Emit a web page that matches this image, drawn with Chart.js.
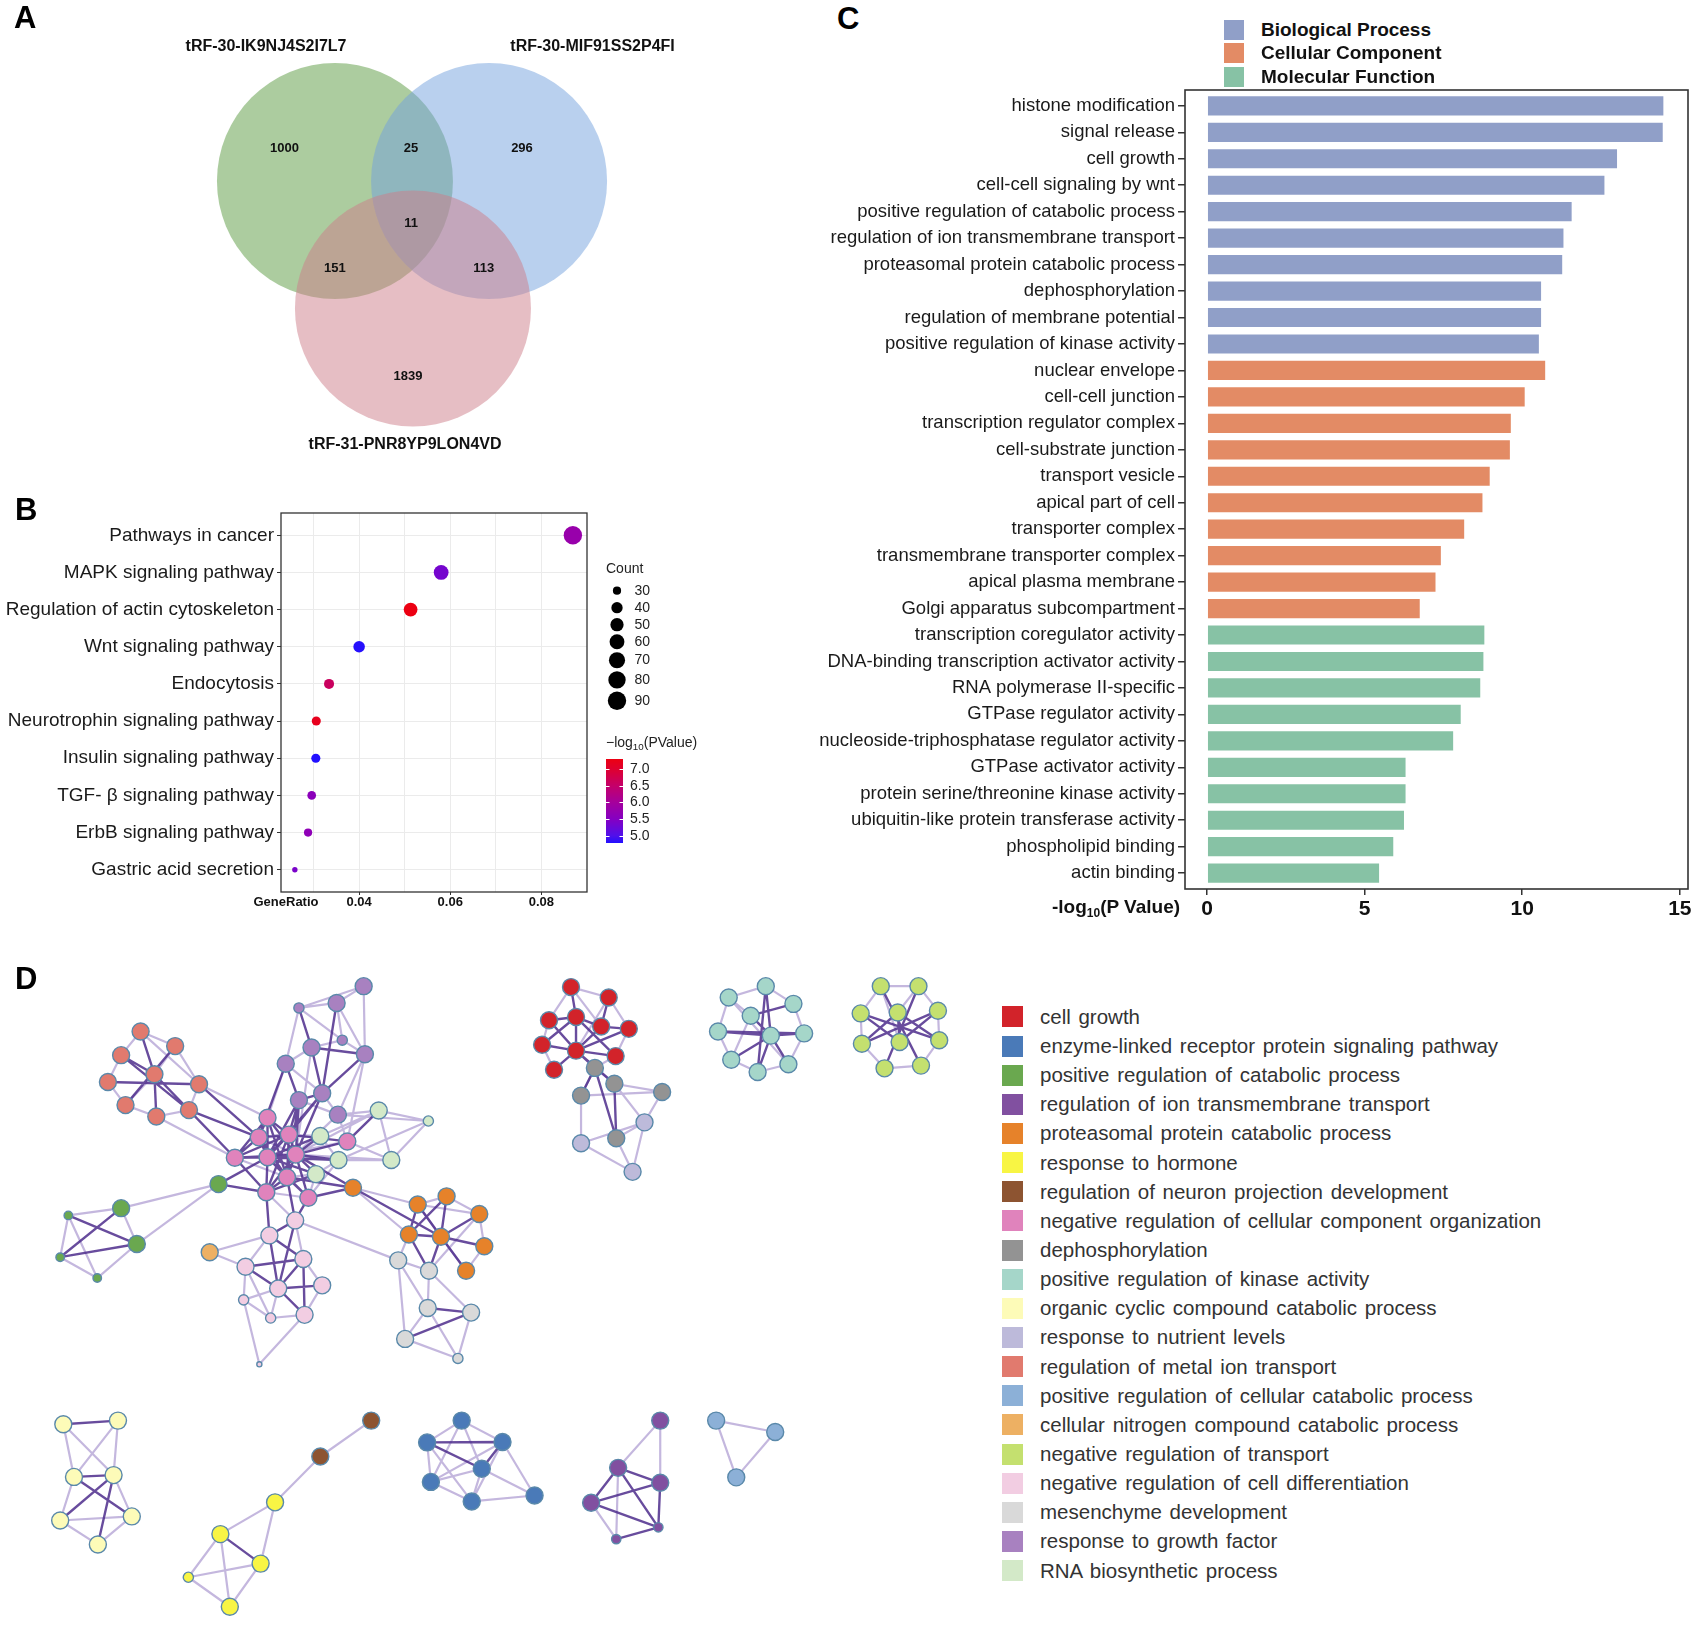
<!DOCTYPE html>
<html>
<head>
<meta charset="utf-8">
<script src="https://cdn.jsdelivr.net/npm/chart.js"></script>
<style>
  html, body { margin: 0; padding: 0; background: #fff; }
  body { width: 1698px; height: 1628px; position: relative; overflow: hidden;
         font-family: 'Liberation Sans', Arial, sans-serif; color: #111; }
  canvas { position: absolute; }
  .tag { position: absolute; font-weight: bold; font-size: 31px; line-height: 31px; color: #000; }
  .lrow { position: absolute; display: flex; align-items: center; white-space: nowrap; }
  .sw { display: inline-block; flex: none; }
  #legC .lrow { left: 1224px; height: 23px; font-weight: bold; font-size: 19px; color: #111; }
  #legC .sw { width: 20px; height: 20px; margin-right: 17px; }
  #legD .lrow { left: 1002px; height: 29px; font-size: 20.5px; color: #333; word-spacing: 2px; }
  #legD .sw { width: 21px; height: 21px; margin-right: 17px; }
  #cTitle { position: absolute; left: 1116px; top: 908px; transform: translate(-50%, -50%);
            font-weight: bold; font-size: 19px; white-space: nowrap; color: #111; }
  #cTitle sub { font-size: 12px; }
</style>
</head>
<body>
<canvas id="venn" width="720" height="470" style="left:0;top:0"></canvas>
<canvas id="dots" width="720" height="440" style="left:0;top:490px"></canvas>
<canvas id="bars" width="958" height="850" style="left:740px;top:80px"></canvas>
<canvas id="net" width="1000" height="728" style="left:0;top:900px"></canvas>
<div id="legC"></div>
<div id="legD"></div>
<div id="cTitle">-log<sub>10</sub>(P Value)</div>
<div class="tag" style="left:14px;top:2px">A</div>
<div class="tag" style="left:15px;top:494px">B</div>
<div class="tag" style="left:837px;top:3px">C</div>
<div class="tag" style="left:15px;top:963px">D</div>
<script>
// ---- A: Venn of target genes ----
const vennSets = ['tRF-30-IK9NJ4S2I7L7', 'tRF-30-MIF91SS2P4FI', 'tRF-31-PNR8YP9LON4VD'];
const vennRegions = ['1', '1&2', '2', '1&2&3', '1&3', '2&3', '3'];
const vennCounts = [1000, 25, 296, 11, 151, 113, 1839];

// ---- B: KEGG dot plot ----
const bPathways = ['Pathways in cancer', 'MAPK signaling pathway', 'Regulation of actin cytoskeleton',
  'Wnt signaling pathway', 'Endocytosis', 'Neurotrophin signaling pathway', 'Insulin signaling pathway',
  'TGF- β signaling pathway', 'ErbB signaling pathway', 'Gastric acid secretion'];
const bGeneRatio = [0.0869, 0.0580, 0.0513, 0.0400, 0.0334, 0.0306, 0.0305, 0.0296, 0.0288, 0.0259];
const bCount = [90, 60, 53, 41, 35, 32, 32, 31, 30, 27];
const bLogP = [5.8, 5.35, 7.31, 4.8, 6.6, 7.2, 4.78, 5.6, 5.65, 5.4];
const bXTicks = [0.03, 0.04, 0.05, 0.06, 0.07, 0.08];
const bXLabeled = [0.04, 0.06, 0.08];
const bCountBreaks = [30, 40, 50, 60, 70, 80, 90];
const bPBreaks = [5.0, 5.5, 6.0, 6.5, 7.0];

// ---- C: GO bar chart ----
const cTerms = ['histone modification', 'signal release', 'cell growth', 'cell-cell signaling by wnt',
  'positive regulation of catabolic process', 'regulation of ion transmembrane transport',
  'proteasomal protein catabolic process', 'dephosphorylation', 'regulation of membrane potential',
  'positive regulation of kinase activity', 'nuclear envelope', 'cell-cell junction',
  'transcription regulator complex', 'cell-substrate junction', 'transport vesicle', 'apical part of cell',
  'transporter complex', 'transmembrane transporter complex', 'apical plasma membrane',
  'Golgi apparatus subcompartment', 'transcription coregulator activity',
  'DNA-binding transcription activator activity', 'RNA polymerase II-specific', 'GTPase regulator activity',
  'nucleoside-triphosphatase regulator activity', 'GTPase activator activity',
  'protein serine/threonine kinase activity', 'ubiquitin-like protein transferase activity',
  'phospholipid binding', 'actin binding'];
const cLogP = [14.51, 14.49, 13.04, 12.64, 11.6, 11.34, 11.3, 10.63, 10.63, 10.56,
  10.76, 10.11, 9.67, 9.64, 9.0, 8.77, 8.19, 7.45, 7.28, 6.78,
  8.83, 8.8, 8.7, 8.08, 7.84, 6.33, 6.33, 6.28, 5.94, 5.49];
const cGroup = [0, 0, 0, 0, 0, 0, 0, 0, 0, 0, 1, 1, 1, 1, 1, 1, 1, 1, 1, 1, 2, 2, 2, 2, 2, 2, 2, 2, 2, 2];
const cGroupNames = ['Biological Process', 'Cellular Component', 'Molecular Function'];
const cXTicks = [0, 5, 10, 15];

// ---- D: enriched term network ----
const dTerms = ['cell growth', 'enzyme-linked receptor protein signaling pathway',
  'positive regulation of catabolic process', 'regulation of ion transmembrane transport',
  'proteasomal protein catabolic process', 'response to hormone', 'regulation of neuron projection development',
  'negative regulation of cellular component organization', 'dephosphorylation',
  'positive regulation of kinase activity', 'organic cyclic compound catabolic process',
  'response to nutrient levels', 'regulation of metal ion transport',
  'positive regulation of cellular catabolic process', 'cellular nitrogen compound catabolic process',
  'negative regulation of transport', 'negative regulation of cell differentiation',
  'mesenchyme development', 'response to growth factor', 'RNA biosynthetic process'];
const nodeX = [208, 263, 177, 230, 156, 301, 184, 233, 285,
  563, 460, 520, 529, 480, 565, 439, 497, 460, 522,
  410, 396, 444, 358, 410, 455, 441, 408, 475, 537,
  587, 666, 494, 523, 607, 487,
  332, 177, 202, 93, 80, 139,
  546, 649, 695, 747, 635, 686, 755, 726,
  318,
  454, 413, 467, 375, 497, 427, 372, 415, 469, 397,
  618, 667, 665, 734, 629, 713,
  893, 953, 858, 901, 941, 985, 847, 901, 964, 866,
  931, 962, 909, 1038, 965,
  1010, 909, 991,
  1203, 1144, 1247, 1179, 1127, 1211, 1264, 1148, 1239, 1190,
  1386, 1446, 1354, 1413, 1477, 1356, 1416, 1479, 1392, 1450,
  85, 172, 102, 165, 80, 194, 140,
  422, 335, 399, 284, 350,
  575, 494,
  719, 664, 784, 751, 670, 735, 835,
  1035, 968, 1035, 925, 965, 1032,
  1124, 1218, 1156];
const nodeY = [268, 300, 320, 362, 379, 384, 430, 455, 441,
  168, 216, 205, 287, 303, 318, 339, 404, 419, 451,
  458, 501, 495, 546, 545, 539, 589, 622, 634, 510,
  442, 465, 498, 551, 551, 582,
  604, 657, 736, 673, 765, 811,
  612, 649, 631, 670, 715, 720, 741, 795,
  754,
  684, 717, 769, 786, 827, 834, 859, 899, 892, 1001,
  772, 795, 877, 887, 945, 988,
  170, 193, 243, 236, 257, 262, 297, 310, 322, 352,
  348, 383, 409, 401, 503,
  468, 514, 577,
  168, 193, 207, 233, 268, 277, 272, 330, 340, 357,
  168, 168, 228, 226, 222, 295, 291, 287, 349, 343,
  1133, 1125, 1249, 1245, 1345, 1336, 1398,
  1305, 1375, 1440, 1470, 1535,
  1125, 1204,
  1125, 1173, 1172, 1231, 1260, 1303, 1290,
  1125, 1229, 1262, 1306, 1386, 1360,
  1125, 1150, 1250];
const nodeGroup = [12, 12, 12, 12, 12, 12, 12, 12, 12,
  18, 18, 18, 18, 18, 18, 18, 18, 18, 18,
  7, 7, 7, 7, 7, 7, 7, 7, 7, 7,
  19, 19, 19, 19, 19, 19,
  2, 2, 2, 2, 2, 2,
  4, 4, 4, 4, 4, 4, 4, 4,
  14,
  16, 16, 16, 16, 16, 16, 16, 16, 16, 16,
  17, 17, 17, 17, 17, 17,
  0, 0, 0, 0, 0, 0, 0, 0, 0, 0,
  8, 8, 8, 8, 8,
  11, 11, 11,
  9, 9, 9, 9, 9, 9, 9, 9, 9, 9,
  15, 15, 15, 15, 15, 15, 15, 15, 15, 15,
  10, 10, 10, 10, 10, 10, 10,
  5, 5, 5, 5, 5,
  6, 6,
  1, 1, 1, 1, 1, 1, 1,
  3, 3, 3, 3, 3, 3,
  13, 13, 13];
// relative node size (1 = usual term node)
const nodeSize = nodeX.map(() => 1);
[[10, 0.6], [12, 0.6], [30, 0.6], [38, 0.5], [39, 0.5], [40, 0.5], [56, 0.6], [57, 0.6], [59, 0.3],
 [65, 0.6], [114, 0.6], [129, 0.55], [130, 0.55]].forEach(([i, s]) => { nodeSize[i] = s; });
const strongLinks = [[0, 3], [2, 3], [3, 8], [4, 5], [6, 1], [3, 7], [2, 8], [8, 22], [8, 20], [5, 20],
  [10, 13], [13, 16], [14, 16], [11, 16], [15, 17], [16, 17], [13, 14],
  [17, 21], [17, 24], [16, 24], [17, 25], [16, 23], [17, 23], [16, 21], [15, 20],
  [19, 20], [19, 21], [19, 23], [20, 21], [20, 22], [20, 23], [21, 23], [21, 24], [22, 23], [23, 24],
  [23, 25], [24, 25], [23, 26], [24, 27], [25, 26], [25, 27], [24, 28], [22, 26], [21, 25], [19, 24],
  [19, 22], [21, 22], [20, 25], [22, 24], [19, 25], [26, 24], [23, 27], [21, 26],
  [28, 29], [31, 24], [32, 24], [34, 24], [31, 23], [32, 23], [34, 23], [34, 26], [28, 21],
  [35, 23], [35, 26], [36, 39], [38, 37], [39, 37],
  [41, 24], [41, 25], [41, 27], [41, 46], [42, 45], [42, 46], [43, 46], [44, 46], [45, 46], [46, 47],
  [46, 48], [45, 43],
  [50, 51], [50, 27], [51, 52], [51, 55], [52, 53], [52, 55], [52, 58], [53, 55], [54, 55], [55, 58],
  [50, 55], [50, 25], [51, 26],
  [61, 46], [62, 63], [63, 64], [61, 45],
  [66, 69], [67, 70], [68, 69], [69, 70], [69, 73], [70, 73], [70, 71], [72, 73], [73, 74], [73, 75],
  [68, 73], [69, 74], [72, 69], [71, 73],
  [73, 76], [73, 77], [77, 80], [78, 76], [76, 80],
  [84, 89], [87, 89], [88, 89], [89, 90], [89, 91], [89, 92], [89, 93], [86, 87], [84, 93], [88, 90],
  [97, 100], [96, 101], [99, 98], [94, 103], [95, 102], [97, 99], [100, 98], [96, 100], [97, 101],
  [104, 105], [106, 107], [106, 109], [107, 108], [107, 110],
  [112, 113],
  [119, 120], [119, 121], [120, 121],
  [126, 127], [126, 128], [127, 128], [127, 130], [129, 130], [126, 130], [128, 130]];
const weakLinks = [[0, 1], [0, 2], [1, 5], [2, 4], [4, 6], [6, 7], [7, 8], [8, 5], [1, 3], [3, 6], [0, 5],
  [5, 19], [7, 22],
  [9, 11], [9, 10], [10, 11], [10, 12], [11, 12], [12, 14], [12, 13], [13, 15], [15, 16], [16, 18],
  [17, 18], [14, 18], [10, 15], [9, 14], [11, 14],
  [18, 28], [15, 19], [13, 24], [18, 24], [14, 28],
  [26, 27], [20, 24], [22, 25],
  [29, 30], [29, 33], [30, 33], [31, 32], [32, 33], [29, 31], [32, 34], [30, 32], [33, 28], [29, 18],
  [30, 18], [31, 21], [34, 25], [29, 24], [33, 24], [31, 20], [32, 27], [34, 27], [28, 23],
  [35, 36], [35, 37], [36, 38], [36, 37], [38, 39], [39, 40], [40, 37], [38, 40],
  [41, 45], [42, 43], [42, 48], [43, 44], [44, 47], [47, 48], [42, 44], [41, 42],
  [49, 51], [49, 53],
  [50, 52], [50, 26], [51, 53], [53, 56], [54, 58], [55, 56], [55, 57], [56, 57], [57, 58], [53, 57],
  [56, 59], [58, 59], [50, 60], [54, 52],
  [60, 61], [60, 62], [60, 45], [61, 62], [61, 63], [62, 64], [64, 65], [62, 65], [60, 64], [61, 44],
  [63, 65],
  [66, 67], [66, 68], [67, 71], [68, 72], [71, 74], [72, 75], [74, 76], [67, 73], [66, 70],
  [76, 77], [76, 78], [77, 79], [78, 82], [77, 81], [79, 81], [79, 78],
  [81, 82], [82, 83], [81, 83], [80, 83], [80, 81],
  [84, 85], [84, 86], [85, 88], [86, 90], [88, 91], [91, 93], [93, 92], [92, 90], [87, 91], [85, 92],
  [85, 87],
  [94, 95], [95, 98], [98, 101], [101, 103], [103, 102], [102, 99], [99, 96], [96, 94], [94, 100], [95, 97],
  [104, 106], [104, 107], [105, 106], [105, 107], [106, 108], [107, 109], [108, 110], [109, 110], [108, 109],
  [116, 117], [117, 111], [111, 112], [111, 113], [112, 114], [114, 115], [113, 115], [112, 115], [114, 113],
  [118, 119], [118, 120], [118, 121], [118, 122], [119, 122], [119, 123], [120, 122], [120, 124], [121, 123],
  [121, 124], [122, 123], [123, 124], [121, 122], [120, 123],
  [125, 126], [125, 127], [126, 129], [128, 129],
  [131, 132], [131, 133], [132, 133]];

// ---- styles ----
const FONT = "'Liberation Sans', Arial, sans-serif";
Chart.defaults.font.family = FONT;
Chart.defaults.color = '#1a1a1a';
const vennLayout = {
  centers: [[-0.653, 0], [0.653, 0], [0.008, -1.08]],
  fills: ['rgba(89,153,63,0.5)', 'rgba(115,161,221,0.5)', 'rgba(205,125,137,0.5)'],
  countAt: [[-1.081, 0.275], [-0.008, 0.275], [0.932, 0.275], [-0.008, -0.356], [-0.653, -0.737], [0.607, -0.737], [-0.034, -1.653]],
  nameAt: [[-1.237, 1.136], [1.53, 1.136], [-0.059, -2.237]]
};
const cColors = ['#909fc8', '#e38b65', '#87c2a5'];
const dColors = ['#d2232a', '#4a7ab8', '#6aa84f', '#8150a0', '#e6822a', '#f8f544', '#8d5431', '#e083bc',
  '#939393', '#a5d6c9', '#fdfbb8', '#bdbada', '#e17a6e', '#8cb0d7', '#edb063', '#c4e06f', '#f2cde2',
  '#d9d9d9', '#a881c0', '#d3e9c8'];
// blue -> purple -> red colour ramp as in the figure (keyed by -log10 p)
const pStops = [[4.78, [34, 16, 255]], [5.0, [80, 16, 234]], [5.5, [133, 0, 194]], [6.0, [165, 0, 156]],
  [6.5, [196, 0, 106]], [7.0, [222, 0, 48]], [7.31, [236, 0, 18]]];
const common = { responsive: false, animation: false, events: [],
  plugins: { legend: { display: false }, tooltip: { enabled: false } } };
// keep the plot box exactly where the layout puts it (no room reserved for end labels)
const noEdgePad = s => { s.paddingTop = 0; s.paddingBottom = 0; s.paddingLeft = 0; s.paddingRight = 0; };

const pMin = Math.min(...bLogP), pMax = Math.max(...bLogP);
function pColor(v) {
  v = Math.min(pStops[pStops.length - 1][0], Math.max(pStops[0][0], v));
  let k = 0;
  while (k < pStops.length - 2 && v > pStops[k + 1][0]) k++;
  const [v0, c0] = pStops[k], [v1, c1] = pStops[k + 1];
  const t = (v - v0) / (v1 - v0);
  const c = c0.map((x, i) => Math.round(x + (c1[i] - x) * t));
  return `rgb(${c[0]},${c[1]},${c[2]})`;
}
const cMin = Math.min(...bCount), cMax = Math.max(...bCount);
const countRadius = c => 2.7 + 6.5 * Math.sqrt(Math.max(0, (c - cMin) / (cMax - cMin)));

// text with a subscript run, left aligned at x
function subText(ctx, parts, x, y, size) {
  parts.forEach(([s, sub]) => {
    ctx.font = `${sub ? size * 0.7 : size}px ${FONT}`;
    ctx.fillText(s, x, sub ? y + size * 0.3 : y);
    x += ctx.measureText(s).width;
  });
}

// ---- A ----
const vennDraw = {
  id: 'vennDraw',
  beforeDatasetsDraw(chart) {
    const { ctx, scales: { x, y } } = chart;
    ctx.save();
    vennLayout.centers.forEach(([cx, cy], i) => {
      const px = x.getPixelForValue(cx), py = y.getPixelForValue(cy);
      const rx = Math.abs(x.getPixelForValue(cx + 1) - px), ry = Math.abs(y.getPixelForValue(cy + 1) - py);
      ctx.beginPath();
      ctx.ellipse(px, py, rx, ry, 0, 0, Math.PI * 2);
      ctx.fillStyle = vennLayout.fills[i];
      ctx.fill();
    });
    ctx.restore();
  },
  afterDatasetsDraw(chart) {
    const { ctx, scales: { x, y } } = chart;
    ctx.save();
    ctx.fillStyle = '#111';
    ctx.textAlign = 'center';
    ctx.textBaseline = 'middle';
    ctx.font = `bold 13px ${FONT}`;
    chart.getDatasetMeta(0).data.forEach((p, i) => ctx.fillText(String(vennCounts[i]), p.x, p.y));
    ctx.font = `bold 16px ${FONT}`;
    vennSets.forEach((s, i) => {
      const [lx, ly] = vennLayout.nameAt[i];
      ctx.fillText(s, x.getPixelForValue(lx), y.getPixelForValue(ly));
    });
    ctx.restore();
  }
};
new Chart(document.getElementById('venn'), {
  type: 'scatter',
  data: { labels: vennRegions, datasets: [{ data: vennLayout.countAt.map(([x, y]) => ({ x, y })), pointRadius: 0 }] },
  options: { ...common, layout: { padding: 0 },
    scales: { x: { display: false, min: -3.4915, max: 2.61 }, y: { display: false, min: -2.449, max: 1.534 } } },
  plugins: [vennDraw]
});

// ---- B ----
const bDecor = {
  id: 'bDecor',
  afterDraw(chart) {
    const { ctx, chartArea: a } = chart;
    ctx.save();
    ctx.strokeStyle = '#333';
    ctx.lineWidth = 1.3;
    ctx.strokeRect(a.left, a.top, a.right - a.left, a.bottom - a.top);
    ctx.fillStyle = '#111';
    ctx.textBaseline = 'middle';
    ctx.textAlign = 'center';
    ctx.font = `bold 13px ${FONT}`;
    ctx.fillText('GeneRatio', 286, a.bottom + 10);
    // size legend
    const lx = 606;
    ctx.textAlign = 'left';
    ctx.fillStyle = '#222';
    ctx.font = `14px ${FONT}`;
    ctx.fillText('Count', lx, 79);
    let yy = 100.7, prev = null;
    bCountBreaks.forEach(c => {
      const r = countRadius(c);
      if (prev !== null) yy += Math.max(17, prev + r + 3);
      prev = r;
      ctx.fillStyle = '#000';
      ctx.beginPath(); ctx.arc(617, yy, r, 0, Math.PI * 2); ctx.fill();
      ctx.fillStyle = '#222';
      ctx.fillText(String(c), 634.5, yy);
    });
    // colour bar
    subText(ctx, [['\u2212log', 0], ['10', 1], ['(PValue)', 0]], lx, 253, 14);
    const top = 269, bot = 353, w = 17;
    const yOf = v => bot - (v - pMin) / (pMax - pMin) * (bot - top);
    for (let py = top; py < bot; py++) {
      ctx.fillStyle = pColor(pMin + (bot - py - 0.5) / (bot - top) * (pMax - pMin));
      ctx.fillRect(lx, py, w, 1);
    }
    ctx.strokeStyle = '#fff';
    ctx.lineWidth = 1;
    ctx.font = `14px ${FONT}`;
    ctx.fillStyle = '#222';
    bPBreaks.forEach(v => {
      const py = Math.round(yOf(v)) + 0.5;
      ctx.beginPath();
      ctx.moveTo(lx, py); ctx.lineTo(lx + 3.5, py);
      ctx.moveTo(lx + w - 3.5, py); ctx.lineTo(lx + w, py);
      ctx.stroke();
      ctx.fillText(v.toFixed(1), 630, py);
    });
    ctx.restore();
  }
};
new Chart(document.getElementById('dots'), {
  type: 'scatter',
  data: { datasets: [{
    data: bGeneRatio.map((x, i) => ({ x, y: i })),
    pointRadius: bCount.map(countRadius),
    pointBackgroundColor: bLogP.map(pColor),
    pointBorderWidth: 0
  }] },
  options: { ...common,
    layout: { padding: { left: 0, right: 133, top: 23, bottom: 0 } },
    scales: {
      x: { type: 'linear', min: 0.02286, max: 0.09,
        afterBuildTicks: s => { s.ticks = bXTicks.map(v => ({ value: v })); },
        afterFit: s => { s.height = 38; noEdgePad(s); },
        border: { display: false },
        grid: { color: '#ebebeb', tickLength: 3,
          tickColor: c => (c.tick && bXLabeled.includes(+c.tick.value.toFixed(2))) ? '#333' : 'rgba(0,0,0,0)' },
        ticks: { font: { size: 13, weight: 'bold' }, color: '#111', padding: 0, maxRotation: 0,
          callback: v => bXLabeled.includes(+v.toFixed(2)) ? v.toFixed(2) : '' } },
      y: { type: 'linear', reverse: true, min: -0.6, max: 9.6,
        afterBuildTicks: s => { s.ticks = bPathways.map((_, i) => ({ value: i })); },
        afterFit: s => { s.width = 281; noEdgePad(s); },
        border: { display: false },
        grid: { color: '#ebebeb', tickLength: 4, tickColor: '#333' },
        ticks: { font: { size: 19 }, color: '#1a1a1a', padding: 3, autoSkip: false, callback: v => bPathways[v] } }
    } },
  plugins: [bDecor]
});

// ---- C ----
const boxC = {
  id: 'boxC',
  afterDraw(chart) {
    const { ctx, chartArea: a } = chart;
    ctx.save();
    ctx.strokeStyle = '#333';
    ctx.lineWidth = 1.6;
    ctx.strokeRect(a.left, a.top, a.right - a.left, a.bottom - a.top);
    ctx.restore();
  }
};
new Chart(document.getElementById('bars'), {
  type: 'bar',
  data: { datasets: [{
    data: cLogP.map((v, i) => ({ x: v, y: i })),
    backgroundColor: cGroup.map(g => cColors[g]),
    borderColor: 'rgba(255,255,255,0.55)', borderWidth: 1,
    categoryPercentage: 0.8, barPercentage: 1
  }] },
  options: { ...common, indexAxis: 'y',
    layout: { padding: { left: 0, right: 10, top: 10, bottom: 0 } },
    scales: {
      x: { type: 'linear', min: -0.7, max: 15.26,
        afterBuildTicks: s => { s.ticks = cXTicks.map(v => ({ value: v })); },
        afterFit: s => { s.height = 41; noEdgePad(s); },
        border: { display: false },
        grid: { drawOnChartArea: false, tickLength: 6, tickColor: '#333', lineWidth: 1.5 },
        ticks: { font: { size: 21, weight: 'bold' }, color: '#111', padding: 2, maxRotation: 0 } },
      y: { type: 'linear', reverse: true, min: -0.6, max: 29.6, offset: false,
        afterBuildTicks: s => { s.ticks = cTerms.map((_, i) => ({ value: i })); },
        afterFit: s => { s.width = 445; noEdgePad(s); },
        border: { display: false },
        grid: { offset: false, drawOnChartArea: false, tickLength: 7, tickColor: '#333', lineWidth: 1.5 },
        ticks: { font: { size: 18.5 }, color: '#1a1a1a', padding: 3, autoSkip: false, callback: v => cTerms[v] } }
    } },
  plugins: [boxC]
});
const legC = document.getElementById('legC');
cGroupNames.forEach((n, i) => {
  const row = document.createElement('div');
  row.className = 'lrow';
  row.style.top = (18 + i * 23.5) + 'px';
  row.innerHTML = `<span class="sw" style="background:${cColors[i]}"></span><span>${n}</span>`;
  legC.appendChild(row);
});

// ---- D ----
const nodes = nodeX.map((x, i) => ({ x, y: nodeY[i] }));
function linkPoints(list) {
  const out = [];
  list.forEach(([a, b]) => { out.push(nodes[a], nodes[b], { x: NaN, y: NaN }); });
  return out;
}
new Chart(document.getElementById('net'), {
  type: 'scatter',
  data: { datasets: [
    { data: nodes, order: 0,
      pointRadius: nodeSize.map(s => 8.5 * s),
      pointBackgroundColor: nodeGroup.map(g => dColors[g]),
      pointBorderColor: '#5a89aa', pointBorderWidth: 1.4 },
    { data: linkPoints(strongLinks), order: 1, showLine: true, pointRadius: 0,
      borderColor: 'rgba(78,45,140,0.85)', borderWidth: 2.4 },
    { data: linkPoints(weakLinks), order: 2, showLine: true, pointRadius: 0,
      borderColor: 'rgba(138,112,190,0.5)', borderWidth: 2.2 }
  ] },
  options: { ...common, layout: { padding: 0 },
    scales: { x: { display: false, min: 0, max: 1560 }, y: { display: false, min: 0, max: 1560, reverse: true } } }
});
const legD = document.getElementById('legD');
dTerms.forEach((t, i) => {
  const row = document.createElement('div');
  row.className = 'lrow';
  row.style.top = (1016.9 + i * 29.14 - 14.5) + 'px';
  row.innerHTML = `<span class="sw" style="background:${dColors[i]}"></span><span>${t}</span>`;
  legD.appendChild(row);
});
</script>
</body>
</html>
